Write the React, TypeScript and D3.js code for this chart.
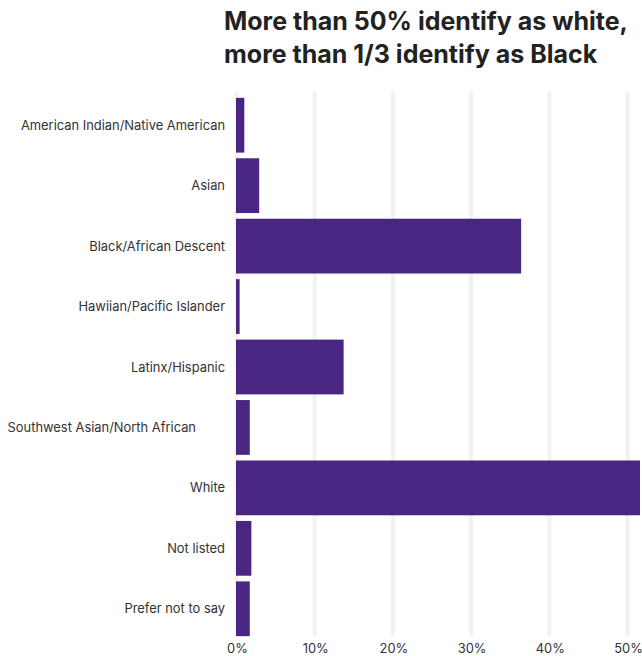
import React from "react";
import * as d3 from "d3";

const categories = [
  "American Indian/Native American",
  "Asian",
  "Black/African Descent",
  "Hawiian/Pacific Islander",
  "Latinx/Hispanic",
  "Southwest Asian/North African\u00a0\u00a0\u00a0\u00a0\u00a0\u00a0\u00a0\u00a0",
  "White",
  "Not listed",
  "Prefer not to say",
];
const values = [1.0, 2.9, 36.4, 0.4, 13.7, 1.7, 51.6, 1.9, 1.7];
const ticks = [0, 10, 20, 30, 40, 50];
const titleLines = [
  "More than 50% identify as white,",
  "more than 1/3 identify as Black",
];

const W = 642;
const H = 656;

export default function App() {
  const x = d3.scaleLinear().domain([0, 50]).range([236.5, 627.5]);
  const y = d3
    .scaleBand<string>()
    .domain(categories)
    .range([95, 639])
    .paddingInner(0.094)
    .paddingOuter(0.047);
  const font = "Inter, 'Noto Sans', sans-serif";
  return (
    <svg
      width={W}
      height={H}
      style={{ position: "absolute", left: 0, top: 0, background: "#fff" }}
      fontFamily={font}
    >
      {titleLines.map((t, i) => (
        <text
          key={i}
          x={224}
          y={30 + i * 33}
          fontSize={25}
          fontWeight={700}
          fill="#222"
        >
          {t}
        </text>
      ))}
      {ticks.map((t) => (
        <rect
          key={t}
          x={x(t) - 2}
          y={91}
          width={4}
          height={545}
          fill="#f1f2f4"
        />
      ))}
      {categories.map((c, i) => (
        <rect
          key={c}
          x={x(0) - 0.5}
          y={y(c)}
          width={Math.max(0, x(values[i]) - x(0) + 0.5)}
          height={y.bandwidth()}
          fill="#482682"
        />
      ))}
      {categories.map((c) => (
        <text
          key={c}
          x={225}
          y={(y(c) as number) + y.bandwidth() / 2}
          textAnchor="end"
          dominantBaseline="central"
          fontSize={12.9}
          fill="#333"
          style={{ whiteSpace: "pre" }}
        >
          {c}
        </text>
      ))}
      {ticks.map((t) => (
        <text
          key={t}
          x={x(t) + 1}
          y={653}
          textAnchor="middle"
          fontSize={12.9}
          fill="#333"
        >
          {t}%
        </text>
      ))}
    </svg>
  );
}
